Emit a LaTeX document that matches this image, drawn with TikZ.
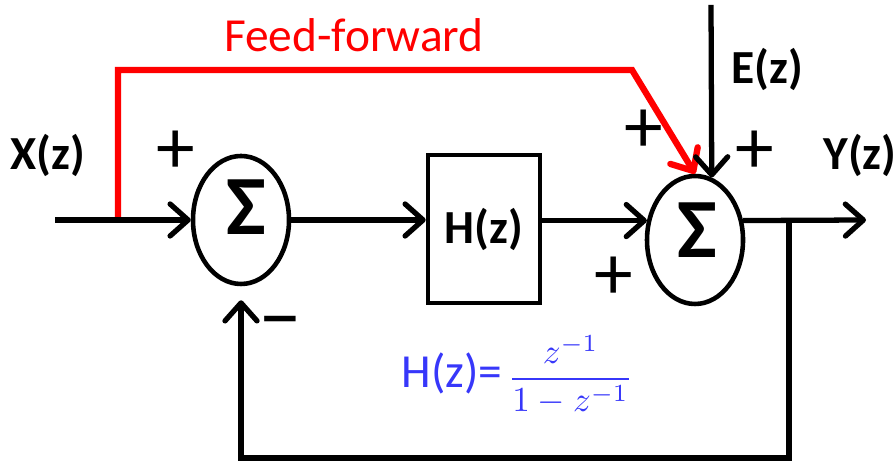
\documentclass[tikz,border=0pt]{standalone}
\usepackage{fontspec}
\setmainfont{Carlito}
\usetikzlibrary{arrows.meta,shapes.geometric}
\definecolor{formelblau}{RGB}{55,55,250}

\tikzset{
  pfeil/.style={line width=1.5pt, -{Straight Barb[length=0.18cm,width=0.32cm,round]}},
  summe/.style={draw, ellipse, line width=1.3pt, minimum width=0.96cm, minimum height=1.28cm, inner sep=0pt},
  block/.style={draw, rectangle, line width=1.3pt, minimum width=1.12cm, minimum height=1.48cm, inner sep=0pt, font=\fontsize{13.5}{15}\selectfont\bfseries},
  signal/.style={font=\fontsize{13.5}{15}\selectfont\bfseries},
  vorz/.style={font=\fontsize{22}{24}\selectfont, inner sep=0pt},
  sigma/.style={font=\fontsize{24}{26}\selectfont\bfseries, inner sep=0pt}
}

\begin{document}
\begin{tikzpicture}
                  \useasboundingbox (0,0) rectangle (8.96,4.63);

                  % Bloecke
                  \node[summe] (s1) at (2.41,2.43) {};
                  \node[block] (hz) at (4.84,2.34) {H(z)};
                  \node[summe] (s2) at (6.95,2.23) {};
                  \node[sigma] (sig1) at (2.46,2.56) {Σ};
                  \node[sigma] (sig2) at (6.97,2.33) {Σ};

                  % Hilfspunkte
                  \coordinate (xin) at (0.55,2.43);
                  \coordinate (abzw) at (1.18,2.43);
                  \coordinate (knick) at (6.32,3.93);
                  \coordinate (ein) at (7.11,4.58);
                  \coordinate (yout) at (8.66,2.43);
                  \coordinate (rueck) at (7.89,2.43);

                  % Vorwaertszweig
                  \draw[pfeil, red, line width=1.8pt] (abzw) |- (knick) -- (s2.north);

                  % Signalpfade
                  \draw[pfeil] (xin) -- (s1.west);
                  \draw[pfeil] (s1.east) -- (s1.east -| hz.west);
                  \draw[pfeil] (hz.east |- s2.158) -- (s2.158);
                  \draw[pfeil] (ein) -- (s2.75);
                  \draw[pfeil] (s2.22) -- (yout);
                  \draw[pfeil] (rueck) -- (rueck |- 0,0.05) -| ([yshift=-0.14cm]s1.south);

                  % Beschriftungen
                  \node[signal] (xl) at (0.48,3.08) {X(z)};
                  \node[signal] (yl) at (8.60,3.08) {Y(z)};
                  \node[signal] (el) at (7.67,3.93) {E(z)};
                  \node[red, font=\fontsize{13.5}{16}\selectfont] (ff) at (3.54,4.28) {Feed-forward};
                  \node[vorz] (p1) at (1.76,3.11) {+};
                  \node[vorz] (p2) at (6.44,3.32) {+};
                  \node[vorz] (p3) at (7.55,3.11) {+};
                  \node[vorz] (p4) at (6.14,1.85) {+};
                  \node[vorz, font=\fontsize{25}{27}\selectfont] (m1) at (2.80,1.33) {–};
                  \node[text=formelblau, anchor=west, inner sep=0pt] (hf) at (4.01,0.88)
                       {{\fontsize{13.5}{15}\selectfont H(z)=}\,{\fontsize{10}{12}\selectfont$\displaystyle\frac{z^{-1}}{1-z^{-1}}$}};
\end{tikzpicture}
\end{document}
